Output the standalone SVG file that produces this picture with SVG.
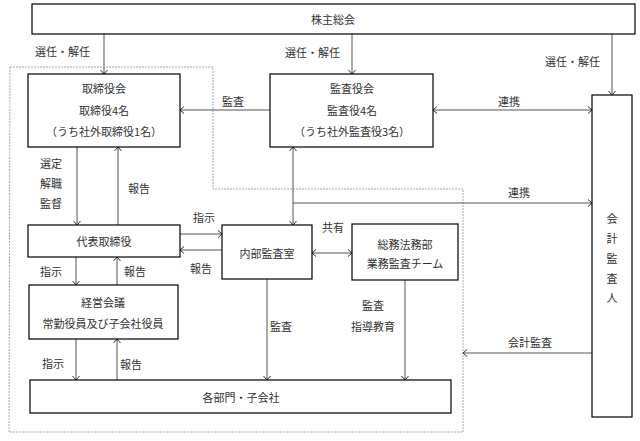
<svg xmlns="http://www.w3.org/2000/svg" width="640" height="441" viewBox="0 0 640 441">
<defs>
<marker id="ah" viewBox="0 0 10 10" refX="9" refY="5" markerWidth="10" markerHeight="10" markerUnits="userSpaceOnUse" orient="auto-start-reverse">
<path d="M5,1.5 L9,5 L5,8.5" fill="none" stroke="#333" stroke-width="1"/>
</marker>
</defs>
<style>
.box{fill:#fff;stroke:#000;stroke-width:1.2}
.t{font-family:"Noto Sans CJK JP","Noto Sans CJK SC",sans-serif;font-size:11px;fill:#333;text-anchor:middle;dominant-baseline:central}
.l{font-family:"Noto Sans CJK JP","Noto Sans CJK SC",sans-serif;font-size:11px;fill:#333;dominant-baseline:central}
.c{fill:none;stroke:#555;stroke-width:1}
.a{marker-end:url(#ah)}
.d{marker-start:url(#ah);marker-end:url(#ah)}
.dash{fill:none;stroke:#aaa;stroke-width:1;stroke-dasharray:2 1}
</style>
<rect width="640" height="441" fill="#fff"/>
<path class="dash" d="M10,67 H213 V189 H463 V432 H9 Z"/>
<g id="connectors">
<path class="c a" d="M104,34 V74"/>
<path class="c a" d="M352,34 V74"/>
<path class="c a" d="M612,34 V95"/>
<path class="c a" d="M270,110 H180"/>
<path class="c d" d="M433,110 H592"/>
<path class="c d" d="M293,147 V225"/>
<path class="c a" d="M293,203 H592"/>
<path class="c a" d="M77,147 V225"/>
<path class="c a" d="M118,225 V147"/>
<path class="c a" d="M180,234 H222"/>
<path class="c a" d="M222,250 H180"/>
<path class="c d" d="M312,253 H352"/>
<path class="c a" d="M76,257 V285"/>
<path class="c a" d="M117,285 V257"/>
<path class="c a" d="M76,339 V380"/>
<path class="c a" d="M117,380 V339"/>
<path class="c a" d="M267,279 V380"/>
<path class="c a" d="M405,280 V380"/>
<path class="c a" d="M592,353 H463"/>
</g>
<g id="labels">
<text class="l" x="35" y="51">選任・解任</text>
<text class="l" x="285" y="52">選任・解任</text>
<text class="l" x="545" y="61">選任・解任</text>
<text class="l" x="222" y="101">監査</text>
<text class="l" x="498" y="101">連携</text>
<text class="l" x="508" y="192">連携</text>
<text class="l" x="40" y="163">選定</text>
<text class="l" x="40" y="183">解職</text>
<text class="l" x="40" y="203">監督</text>
<text class="l" x="128" y="188">報告</text>
<text class="l" x="193" y="217">指示</text>
<text class="l" x="190" y="268">報告</text>
<text class="l" x="322" y="227">共有</text>
<text class="l" x="40" y="271">指示</text>
<text class="l" x="124" y="271">報告</text>
<text class="l" x="42" y="363">指示</text>
<text class="l" x="120" y="364">報告</text>
<text class="l" x="270" y="326">監査</text>
<text class="t" x="373" y="305">監査</text>
<text class="t" x="373" y="326">指導教育</text>
<text class="l" x="508" y="342">会計監査</text>
</g>
<g id="kabunushi">
<rect class="box" x="32" y="4" width="603" height="30"/>
<text class="t" x="333" y="19">株主総会</text>
</g>
<g id="torishimariyakukai">
<rect class="box" x="28" y="74" width="152" height="73"/>
<text class="t" x="104" y="88">取締役会</text>
<text class="t" x="104" y="110">取締役4名</text>
<text class="t" x="104" y="131">（うち社外取締役1名）</text>
</g>
<g id="kansayakukai">
<rect class="box" x="270" y="74" width="163" height="73"/>
<text class="t" x="352" y="88">監査役会</text>
<text class="t" x="352" y="110">監査役4名</text>
<text class="t" x="352" y="131">（うち社外監査役3名）</text>
</g>
<g id="kaikeikansanin">
<rect class="box" x="592" y="95" width="40" height="322"/>
<text class="t" x="612" y="218">会</text>
<text class="t" x="612" y="238">計</text>
<text class="t" x="612" y="258">監</text>
<text class="t" x="612" y="278">査</text>
<text class="t" x="612" y="297">人</text>
</g>
<g id="daihyo">
<rect class="box" x="28" y="225" width="152" height="32"/>
<text class="t" x="104" y="241">代表取締役</text>
</g>
<g id="naibukansa">
<rect class="box" x="222" y="225" width="90" height="54"/>
<text class="t" x="267" y="253">内部監査室</text>
</g>
<g id="somuhomu">
<rect class="box" x="352" y="224" width="106" height="56"/>
<text class="t" x="405" y="244">総務法務部</text>
<text class="t" x="405" y="263">業務監査チーム</text>
</g>
<g id="keieikaigi">
<rect class="box" x="29" y="285" width="149" height="54"/>
<text class="t" x="103" y="302">経営会議</text>
<text class="t" x="103" y="323">常勤役員及び子会社役員</text>
</g>
<g id="kakubumon">
<rect class="box" x="30" y="380" width="421" height="33"/>
<text class="t" x="241" y="397">各部門・子会社</text>
</g>
</svg>
